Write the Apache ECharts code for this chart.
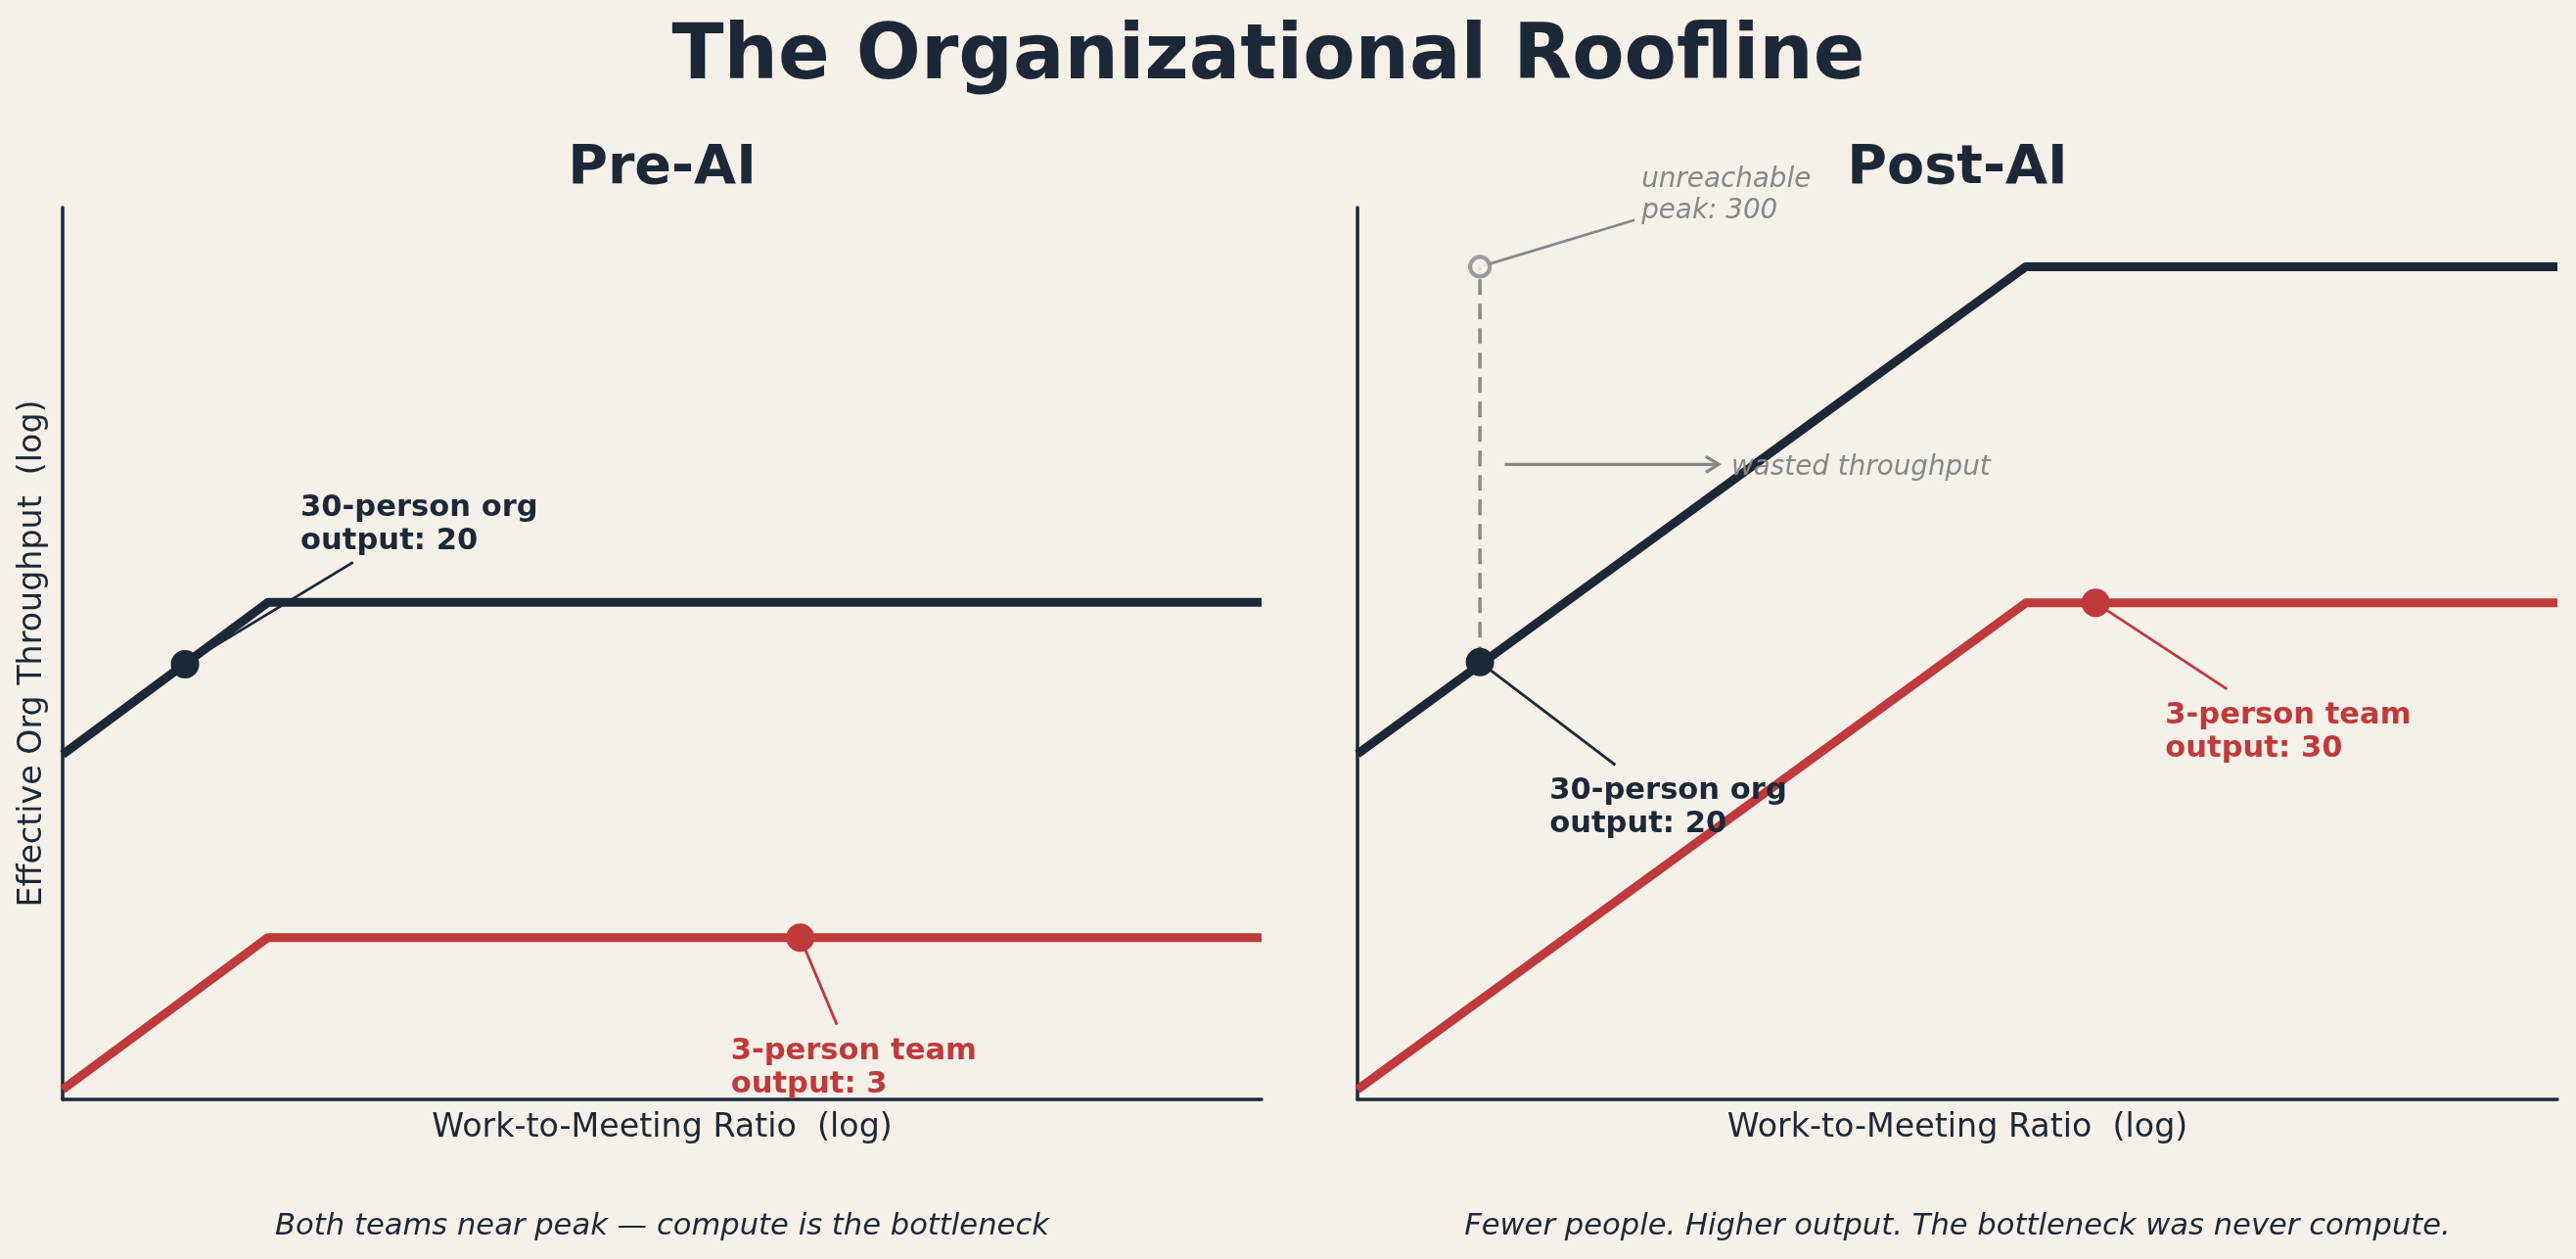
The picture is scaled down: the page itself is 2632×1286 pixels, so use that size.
<!DOCTYPE html>
<html><head><meta charset="utf-8">
<script src="https://cdn.jsdelivr.net/npm/echarts@6/dist/echarts.min.js"></script>
<style>html,body{margin:0;padding:0;background:#f5f0e8;}#c{width:2632px;height:1286px;}</style>
</head><body><div id="c"></div>
<script>
// ---------- data ----------
const mainTitle = 'The Organizational Roofline';
const panelTitles = ['Pre-AI', 'Post-AI'];
const xAxisTitle = 'Work-to-Meeting Ratio  (log)';
const yAxisTitle = 'Effective Org Throughput  (log)';
const captions = ['Both teams near peak \u2014 compute is the bottleneck',
                  'Fewer people. Higher output. The bottleneck was never compute.'];

const xRange = [1, 100];
const preYRange = [1.2, 187];
const postYRange = [1, 450];

// roofline curves: [ratio, throughput]
const preOrgLine   = [[1, 8.46], [2.2, 20], [100, 20]];
const preTeamLine  = [[1, 1.27], [2.2, 3],  [100, 3]];
const postOrgLine  = [[1, 10.66], [13, 300], [100, 300]];
const postTeamLine = [[1, 1.07],  [13, 30],  [100, 30]];

// operating points
const preOrgPoint   = [1.6, 14.1];
const preTeamPoint  = [17, 3];
const postOrgPoint  = [1.6, 20];
const postTeamPoint = [17, 30];
const unreachablePeak = [1.6, 300];
const wastedGap = [[1.6, 20], [1.6, 300]];
const wastedArrow = [[1.76, 77.5], [4.0, 77.5]];
const wastedLabelAt = [4.2, 77.5];

const labels = {
  preOrg: '30-person org\noutput: 20',
  preTeam: '3-person team\noutput: 3',
  postOrg: '30-person org\noutput: 20',
  postTeam: '3-person team\noutput: 30',
  peak: 'unreachable\npeak: 300',
  wasted: 'wasted throughput'
};

// ---------- style ----------
const BG = '#f5f0e8', NAVY = '#1c2838', RED = '#c0393b', GREY = '#888888';
const FF = '"DejaVu Sans", Verdana, sans-serif';

const chart = echarts.init(document.getElementById('c'), null, {renderer: 'canvas'});

function xAxis(gi) {
  return {
    type: 'log', gridIndex: gi, min: xRange[0], max: xRange[1], logBase: 10,
    axisLine: {show: true, onZero: false, lineStyle: {color: NAVY, width: 3.5}},
    axisTick: {show: false}, axisLabel: {show: false}, splitLine: {show: false},
    name: xAxisTitle, nameLocation: 'middle', nameGap: 13,
    nameTextStyle: {fontFamily: FF, fontSize: 33.3, color: NAVY, verticalAlign: 'top'}
  };
}
function yAxis(gi, r, named) {
  return {
    type: 'log', gridIndex: gi, min: r[0], max: r[1], logBase: 10,
    axisLine: {show: true, onZero: false, lineStyle: {color: NAVY, width: 3.5}},
    axisTick: {show: false}, axisLabel: {show: false}, splitLine: {show: false},
    name: named ? yAxisTitle : '', nameLocation: 'middle', nameGap: 14, nameRotate: 90,
    nameTextStyle: {fontFamily: FF, fontSize: 33.3, color: NAVY}
  };
}
function curve(gi, data, color) {
  return {type: 'line', xAxisIndex: gi, yAxisIndex: gi, data, symbol: 'none', silent: true,
    lineStyle: {color, width: 9, cap: 'butt', join: 'round'}, z: 3};
}
function dot(gi, pt, color) {
  return {type: 'scatter', xAxisIndex: gi, yAxisIndex: gi, data: [pt], symbol: 'circle',
    symbolSize: 29, itemStyle: {color, opacity: 1}, silent: true, z: 5};
}

chart.setOption({
  backgroundColor: BG,
  animation: false,
  grid: [
    {left: 64, top: 212, width: 1225, height: 911, containLabel: false},
    {left: 1387, top: 212, width: 1226, height: 911, containLabel: false}
  ],
  xAxis: [xAxis(0), xAxis(1)],
  yAxis: [yAxis(0, preYRange, true), yAxis(1, postYRange, false)],
  series: [
    curve(0, preOrgLine, NAVY),
    curve(0, preTeamLine, RED),
    dot(0, preOrgPoint, NAVY),
    dot(0, preTeamPoint, RED),
    {type: 'line', xAxisIndex: 1, yAxisIndex: 1, data: wastedGap, symbol: 'none', silent: true,
      lineStyle: {color: GREY, width: 3.5, type: [16, 9]}, z: 2},
    curve(1, postOrgLine, NAVY),
    curve(1, postTeamLine, RED),
    dot(1, postOrgPoint, NAVY),
    dot(1, postTeamPoint, RED),
    {type: 'scatter', xAxisIndex: 1, yAxisIndex: 1, data: [unreachablePeak], symbol: 'circle',
      symbolSize: 20, itemStyle: {color: BG, borderColor: GREY, borderWidth: 4.2}, silent: true, z: 6}
  ]
});

// ---------- annotations (positioned from data via the axes) ----------
const mctx = document.createElement('canvas').getContext('2d');
const TY = 3; // small vertical text offset so cap-height centres line up
function annotate(gi, pt, text, dx, dy, color, font, lh, shrink, lw) {
  const p = chart.convertToPixel({gridIndex: gi}, pt);
  const lines = text.split('\n');
  mctx.font = font;
  const w = Math.max(...lines.map(l => mctx.measureText(l).width));
  const h = lines.length * lh;
  const left = p[0] + dx, cy = p[1] + dy, cx = left + w / 2;
  const pad = 7;
  const ddx = p[0] - cx, ddy = p[1] - cy;
  let t = Infinity;
  if (ddx !== 0) t = Math.min(t, (w / 2 + pad) / Math.abs(ddx));
  if (ddy !== 0) t = Math.min(t, (h / 2 + pad) / Math.abs(ddy));
  const sx = cx + ddx * t, sy = cy + ddy * t;
  const len = Math.hypot(ddx, ddy);
  const ex = p[0] - ddx / len * shrink, ey = p[1] - ddy / len * shrink;
  return [
    {type: 'line', silent: true, z: 1, shape: {x1: sx, y1: sy, x2: ex, y2: ey},
      style: {stroke: color, lineWidth: lw}},
    {type: 'text', silent: true, z: 100, x: left, y: cy + TY,
      style: {text, font, fill: color, align: 'left', verticalAlign: 'middle', lineHeight: lh}}
  ];
}
const BOLD = 'bold 30.6px ' + FF;
const ITAL = 'italic 27.8px ' + FF;

const g = [];
g.push(...annotate(0, preOrgPoint, labels.preOrg, 118, -145, NAVY, BOLD, 34, 0, 2.8));
g.push(...annotate(0, preTeamPoint, labels.preTeam, -71, 130, RED, BOLD, 34, 0, 2.8));
g.push(...annotate(1, postOrgPoint, labels.postOrg, 71, 146, NAVY, BOLD, 34, 0, 2.8));
g.push(...annotate(1, postTeamPoint, labels.postTeam, 71, 129, RED, BOLD, 34, 0, 2.8));
g.push(...annotate(1, unreachablePeak, labels.peak, 165, -76, GREY, ITAL, 32, 4, 2.8));

// wasted throughput arrow
const a0 = chart.convertToPixel({gridIndex: 1}, wastedArrow[0]);
const a1 = chart.convertToPixel({gridIndex: 1}, wastedArrow[1]);
const wl = chart.convertToPixel({gridIndex: 1}, wastedLabelAt);
g.push({type: 'line', silent: true, z: 1, shape: {x1: a0[0], y1: a0[1], x2: a1[0], y2: a1[1]},
  style: {stroke: GREY, lineWidth: 3.2}});
g.push({type: 'polyline', silent: true, z: 1,
  shape: {points: [[a1[0] - 13, a1[1] - 8], [a1[0], a1[1]], [a1[0] - 13, a1[1] + 8]]},
  style: {stroke: GREY, lineWidth: 3.2, fill: null}});
g.push({type: 'text', silent: true, z: 100, x: wl[0], y: wl[1] + TY,
  style: {text: labels.wasted, font: ITAL, fill: GREY, align: 'left', verticalAlign: 'middle'}});

// titles and captions
g.push({type: 'text', silent: true, z: 100, x: 1296, y: 60,
  style: {text: mainTitle, font: 'bold 77.8px ' + FF, fill: NAVY, align: 'center', verticalAlign: 'middle'}});
const gridCenters = [64 + 1225 / 2, 1387 + 1226 / 2];
panelTitles.forEach((t, i) => g.push({type: 'text', silent: true, z: 100, x: gridCenters[i], y: 173,
  style: {text: t, font: 'bold 55.6px ' + FF, fill: NAVY, align: 'center', verticalAlign: 'middle'}}));
captions.forEach((t, i) => g.push({type: 'text', silent: true, z: 100, x: gridCenters[i], y: 1253,
  style: {text: t, font: 'italic 30.6px ' + FF, fill: NAVY, align: 'center', verticalAlign: 'middle'}}));

chart.setOption({graphic: {elements: g}});
</script>
</body></html>
